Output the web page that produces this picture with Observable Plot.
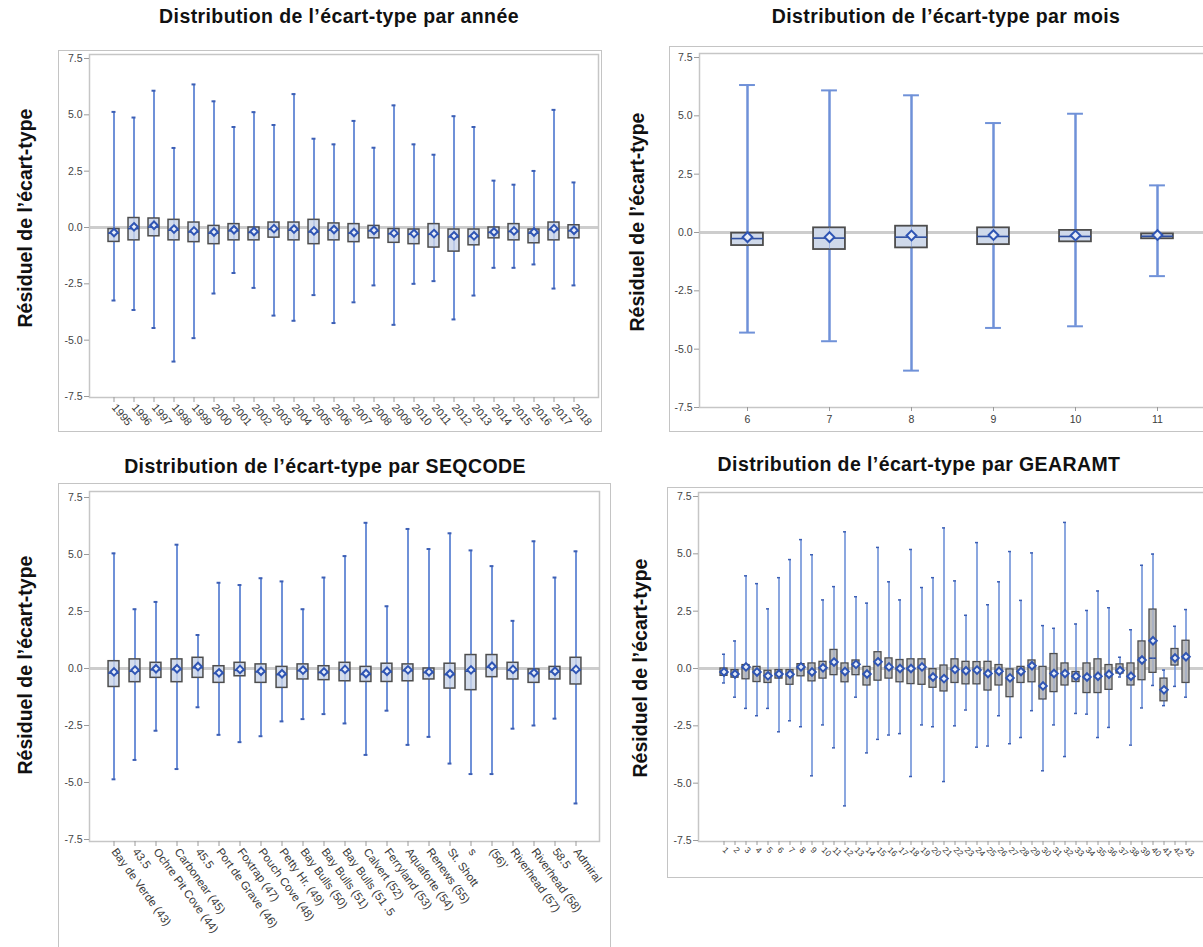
<!DOCTYPE html>
<html><head><meta charset="utf-8">
<script src="https://cdn.jsdelivr.net/npm/d3@7"></script>
<script src="https://cdn.jsdelivr.net/npm/@observablehq/plot@0.6"></script>
<style>
html,body{margin:0;padding:0;background:#fff;overflow:hidden;}
#page{position:relative;width:1203px;height:947px;overflow:hidden;font-family:"Liberation Sans",Arial,sans-serif;}
.title{position:absolute;font-weight:bold;font-size:19.5px;letter-spacing:0.4px;line-height:20px;color:#111;white-space:nowrap;transform:translateX(-50%);}
.ylab{position:absolute;font-weight:bold;font-size:19.5px;line-height:20px;color:#111;white-space:nowrap;transform:translate(-50%,-50%) rotate(-90deg);}
.panel{position:absolute;border:1px solid #c4c4c4;box-sizing:border-box;overflow:hidden;background:#fff;}
.panel svg{display:block;}
</style>
</head><body>
<div id="page"></div>
<script>
// ---------- Data ----------
const yearCats = ["1995","1996","1997","1998","1999","2000","2001","2002","2003","2004","2005","2006","2007","2008","2009","2010","2011","2012","2013","2014","2015","2016","2017","2018"];
const yearHi = [5.13,4.88,6.07,3.53,6.35,5.6,4.46,5.12,4.55,5.92,3.94,3.69,4.73,3.54,5.42,3.69,3.23,4.94,4.46,2.08,1.9,2.51,5.22,2.0];
const yearLo = [-3.24,-3.66,-4.46,-5.95,-4.91,-2.93,-2.02,-2.68,-3.91,-4.14,-3.0,-4.24,-3.32,-2.57,-4.32,-2.5,-2.38,-4.08,-3.02,-1.79,-1.79,-1.64,-2.71,-2.57];
const yearQ3 = [-0.07,0.42,0.4,0.34,0.22,0.07,0.15,0,0.22,0.22,0.34,0.18,0.15,0.07,-0.07,-0.09,0.15,-0.09,-0.09,0,0.15,-0.09,0.22,0.1];
const yearQ1 = [-0.64,-0.57,-0.39,-0.57,-0.65,-0.74,-0.57,-0.57,-0.45,-0.57,-0.74,-0.57,-0.65,-0.48,-0.68,-0.74,-0.89,-1.07,-0.79,-0.48,-0.57,-0.7,-0.57,-0.48];
const yearMed = [-0.25,-0.05,0.02,-0.12,-0.2,-0.25,-0.15,-0.22,-0.08,-0.12,-0.2,-0.12,-0.25,-0.15,-0.28,-0.3,-0.3,-0.42,-0.4,-0.22,-0.18,-0.25,-0.1,-0.15];
const yearMean = [-0.22,0.03,0.1,-0.07,-0.15,-0.2,-0.1,-0.18,-0.05,-0.07,-0.15,-0.09,-0.22,-0.12,-0.25,-0.27,-0.27,-0.37,-0.37,-0.2,-0.15,-0.2,-0.05,-0.12];

const monthCats = ["6","7","8","9","10","11"];
const monthHi = [6.32,6.09,5.88,4.69,5.09,2.02];
const monthLo = [-4.29,-4.66,-5.92,-4.09,-4.02,-1.87];
const monthQ3 = [-0.03,0.2,0.27,0.2,0.09,-0.06];
const monthQ1 = [-0.56,-0.73,-0.66,-0.52,-0.4,-0.27];
const monthMed = [-0.26,-0.24,-0.2,-0.17,-0.17,-0.16];
const monthMean = [-0.2,-0.2,-0.13,-0.11,-0.13,-0.11];

const seqCats = ["Bay de Verde (43)","43.5","Ochre Pit Cove (44)","Carbonear (45)","45.5","Port de Grave (46)","Foxtrap (47)","Pouch Cove (48)","Petty Hr. (49)","Bay Bulls (50)","Bay Bulls (51)","Bay Bulls (51 .5","Calvert (52)","Ferryland (53)","Aquaforte (54)","Renews (55)","St. Shott","s","(56)'","Riverhead (57)","Riverhead (58)","58.5","Admiral"];
const seqHi = [5.05,2.6,2.92,5.43,1.47,3.76,3.66,3.96,3.82,2.6,3.99,4.93,6.39,2.73,6.12,5.24,5.93,5.18,4.49,2.09,5.58,3.99,5.14];
const seqLo = [-4.86,-4.01,-2.73,-4.41,-1.7,-2.91,-3.23,-2.97,-2.32,-2.22,-2.0,-2.41,-3.79,-1.85,-3.35,-3.0,-4.17,-4.63,-4.63,-2.64,-2.5,-2.2,-5.92];
const seqQ3 = [0.32,0.4,0.25,0.4,0.47,0.1,0.25,0.18,0.07,0.18,0.1,0.25,0.07,0.21,0.18,0,0.21,0.59,0.59,0.25,-0.04,0.07,0.47];
const seqQ1 = [-0.81,-0.6,-0.41,-0.6,-0.41,-0.63,-0.34,-0.63,-0.85,-0.48,-0.51,-0.56,-0.59,-0.59,-0.56,-0.48,-0.88,-0.95,-0.38,-0.48,-0.63,-0.48,-0.7];
const seqMed = [-0.2,-0.12,-0.06,-0.05,0.03,-0.22,-0.08,-0.15,-0.27,-0.1,-0.18,-0.08,-0.26,-0.15,-0.1,-0.18,-0.27,-0.12,0.05,-0.08,-0.22,-0.15,-0.08];
const seqMean = [-0.15,-0.07,-0.01,-0.01,0.09,-0.19,-0.04,-0.12,-0.23,-0.07,-0.15,-0.04,-0.22,-0.12,-0.06,-0.15,-0.23,-0.06,0.1,-0.04,-0.19,-0.12,-0.04];

const gearCats = ["1","2","3","4","5","6","7","8","9","10","11","12","13","14","15","16","17","18","19","20","21","22","23","24","25","26","27","28","29","30","31","32","33","34","35","36","37","38","39","40","41","42","43"];
const gearHi = [0.62,1.2,4.04,3.7,2.6,3.96,4.75,5.62,4.96,2.99,3.57,5.96,3.13,2.85,5.28,3.78,2.99,5.19,3.53,3.96,6.13,3.82,2.32,5.49,2.78,3.78,5.1,2.97,5.04,1.87,1.75,6.37,1.94,2.53,3.38,2.65,0.49,1.69,4.5,4.99,-0.07,1.84,2.57];
const gearLo = [-0.63,-1.25,-1.74,-2.06,-1.74,-2.76,-2.28,-2.54,-4.68,-2.46,-3.46,-5.99,-1.25,-3.68,-3.09,-2.9,-2.84,-4.71,-2.46,-2.54,-4.93,-2.5,-1.81,-3.43,-3.38,-2.06,-3.28,-3.01,-1.84,-4.46,-2.46,-3.84,-1.96,-1.99,-3.01,-2.57,-0.37,-3.34,-1.72,-0.74,-1.62,-0.78,-1.25];
const gearQ3 = [0,-0.07,0.15,0.07,-0.1,-0.07,-0.07,0.19,0.22,0.29,0.81,0.22,0.35,0.07,0.71,0.44,0.37,0.4,0.4,-0.03,0.13,0.4,0.29,0.28,0.29,0.15,-0.04,0.07,0.35,0.07,0.63,0.22,-0.15,0.22,0.4,0.15,0.18,0.22,1.18,2.57,-0.44,0.85,1.21];
const gearQ1 = [-0.32,-0.4,-0.47,-0.59,-0.63,-0.44,-0.71,-0.34,-0.56,-0.44,-0.29,-0.6,-0.29,-0.74,-0.53,-0.44,-0.6,-0.68,-0.71,-0.84,-1.0,-0.63,-0.69,-0.69,-0.96,-0.74,-1.25,-0.63,-0.6,-1.35,-1.03,-0.74,-0.59,-1.07,-1.07,-0.93,-0.22,-0.74,-0.51,-0.19,-1.43,0.13,-0.63];
const gearMed = [-0.18,-0.26,0.02,-0.2,-0.35,-0.26,-0.3,0.03,-0.2,0,0.2,-0.18,0.12,-0.28,0.22,0.02,-0.05,-0.05,0.02,-0.4,-0.48,-0.08,-0.15,-0.12,-0.26,-0.16,-0.45,-0.18,0.06,-0.8,-0.28,-0.26,-0.36,-0.4,-0.38,-0.3,-0.1,-0.38,0.45,0.45,-0.97,0.42,0.46];
const gearMean = [-0.15,-0.24,0.07,-0.15,-0.32,-0.24,-0.25,0.07,-0.15,0.03,0.28,-0.13,0.18,-0.24,0.29,0.07,0,0,0.07,-0.37,-0.44,-0.04,-0.1,-0.07,-0.22,-0.12,-0.41,-0.13,0.12,-0.76,-0.22,-0.22,-0.34,-0.37,-0.34,-0.25,-0.09,-0.34,0.37,1.21,-0.93,0.46,0.51];

const yTicks = [-7.5,-5,-2.5,0,2.5,5,7.5];
const titleText = "Distribution de l\u2019\u00e9cart-type par ";
const yLabelText = "R\u00e9siduel de l\u2019\u00e9cart-type";

// ---------- Helpers ----------
const page = document.getElementById("page");
function addDiv(cls, text, style) {
  const d = document.createElement("div");
  d.className = cls; d.textContent = text;
  Object.assign(d.style, style);
  page.appendChild(d);
}

function panel(data, c) {
  const rows = data.cats.map((k, i) => ({k, hi: data.hi[i], lo: data.lo[i], q3: data.q3[i], q1: data.q1[i], med: data.med[i], mean: data.mean[i]}));
  const n = rows.length;
  const range = c.width - c.mL - c.mR;
  const step = range / (n - c.pi + 2 * c.po);
  const bw = step * (1 - c.pi);
  const capInset = (bw - c.capW) / 2;
  const boxInset = (bw - c.boxW) / 2;
  const chart = Plot.plot({
    width: c.width, height: c.height,
    marginLeft: c.mL, marginRight: c.mR, marginTop: c.mT, marginBottom: c.mB,
    x: {type: "band", domain: data.cats, paddingInner: c.pi, paddingOuter: c.po, axis: null},
    y: {domain: [-7.5, 7.5], insetTop: c.insetTop, insetBottom: c.insetBottom, axis: null},
    style: {fontFamily: "'Liberation Sans', Arial, sans-serif", background: "transparent", overflow: "visible"},
    marks: [
      Plot.ruleY([0], {stroke: "#cdcdcd", strokeWidth: 3}),
      Plot.ruleX(rows, {x: "k", y1: "lo", y2: "hi", stroke: "#6f91d8", strokeWidth: c.whiskerW}),
      Plot.tickY(rows, {x: "k", y: "hi", stroke: c.capColor, strokeWidth: c.capSW, insetLeft: capInset, insetRight: capInset}),
      Plot.tickY(rows, {x: "k", y: "lo", stroke: c.capColor, strokeWidth: c.capSW, insetLeft: capInset, insetRight: capInset}),
      Plot.barY(rows, {x: "k", y1: "q1", y2: "q3", fill: c.boxFill, stroke: "#4d4d4d", strokeWidth: c.boxSW, insetLeft: boxInset, insetRight: boxInset}),
      Plot.tickY(rows, {x: "k", y: "med", stroke: "#2f4f9f", strokeWidth: 1.6, insetLeft: boxInset, insetRight: boxInset}),
      Plot.ruleX(rows, {x: "k", y1: "q1", y2: "q3", stroke: "#6f91d8", strokeWidth: 1, strokeOpacity: 0.5}),
      Plot.dot(rows, {x: "k", y: "mean", symbol: "diamond2", r: c.meanR, stroke: "#2f55b4", strokeWidth: c.meanSW, fill: "#e9eef8"}),
      Plot.frame({stroke: "#c6c6c6", strokeWidth: 1.5}),
      Plot.axisY({ticks: yTicks, tickFormat: d => d.toFixed(1), tickSize: 5, tickPadding: 2, fontSize: 10.5, stroke: "#9a9a9a", fill: "#444", label: null}),
      Plot.axisX({tickRotate: c.rot, tickSize: c.xTickSize, tickPadding: c.xPad, fontSize: c.xFont, stroke: "#9a9a9a", fill: "#3a3a3a", label: null})
    ]
  });
  const div = document.createElement("div");
  div.className = "panel";
  Object.assign(div.style, {left: c.left + "px", top: c.top + "px", width: (c.width + 2) + "px", height: (c.height + 2) + "px"});
  div.appendChild(chart);
  page.appendChild(div);
}

// ---------- Titles & labels ----------
addDiv("title", titleText + "ann\u00e9e", {left: "339px", top: "6px"});
addDiv("title", titleText + "mois", {left: "946px", top: "6px"});
addDiv("title", titleText + " SEQCODE", {left: "325px", top: "456px"});
addDiv("title", titleText + "GEARAMT", {left: "919px", top: "454px"});
addDiv("ylab", yLabelText, {left: "25px", top: "218px"});
addDiv("ylab", yLabelText, {left: "637px", top: "222px"});
addDiv("ylab", yLabelText, {left: "25px", top: "665px"});
addDiv("ylab", yLabelText, {left: "640px", top: "668px"});

// ---------- Panels ----------
panel({cats: yearCats, hi: yearHi, lo: yearLo, q3: yearQ3, q1: yearQ1, med: yearMed, mean: yearMean},
  {left: 58, top: 50, width: 542, height: 380, mL: 30, mR: 3, mT: 3, mB: 34, insetTop: 4, insetBottom: 1,
   pi: 0.47, po: 0.47, boxW: 11, capW: 4, capSW: 2, capColor: "#3c5fb5", whiskerW: 2, boxFill: "#d3dcec", boxSW: 1.5,
   meanR: 3.4, meanSW: 2, rot: 50, xTickSize: 5, xPad: 3, xFont: 11});

panel({cats: monthCats, hi: monthHi, lo: monthLo, q3: monthQ3, q1: monthQ1, med: monthMed, mean: monthMean},
  {left: 669, top: 46, width: 539, height: 384, mL: 29, mR: 4, mT: 6, mB: 24, insetTop: 4, insetBottom: 0,
   pi: 0.61, po: 0.375, boxW: 32, capW: 16, capSW: 2, capColor: "#6f91d8", whiskerW: 2.5, boxFill: "#cfd9ea", boxSW: 1.8,
   meanR: 4.4, meanSW: 2, rot: 0, xTickSize: 4, xPad: 4, xFont: 10.5});

panel({cats: seqCats, hi: seqHi, lo: seqLo, q3: seqQ3, q1: seqQ1, med: seqMed, mean: seqMean},
  {left: 58, top: 483, width: 551, height: 470, mL: 30, mR: 11, mT: 7, mB: 113, insetTop: 6, insetBottom: 2,
   pi: 0.48, po: 0.655, boxW: 11, capW: 4, capSW: 2, capColor: "#3c5fb5", whiskerW: 2, boxFill: "#d3dcec", boxSW: 1.5,
   meanR: 3.4, meanSW: 2, rot: 54, xTickSize: 5, xPad: 3, xFont: 11.5});

panel({cats: gearCats, hi: gearHi, lo: gearLo, q3: gearQ3, q1: gearQ1, med: gearMed, mean: gearMean},
  {left: 667, top: 487, width: 545, height: 389, mL: 30, mR: 3, mT: 4, mB: 36, insetTop: 4, insetBottom: 1,
   pi: 0.4, po: 0.73, boxW: 7, capW: 3, capSW: 1.5, capColor: "#3c5fb5", whiskerW: 1.6, boxFill: "#bdbdbd", boxSW: 1.3,
   meanR: 3.4, meanSW: 2, rot: 45, xTickSize: 4, xPad: 3, xFont: 8.5});
</script>
</body></html>
